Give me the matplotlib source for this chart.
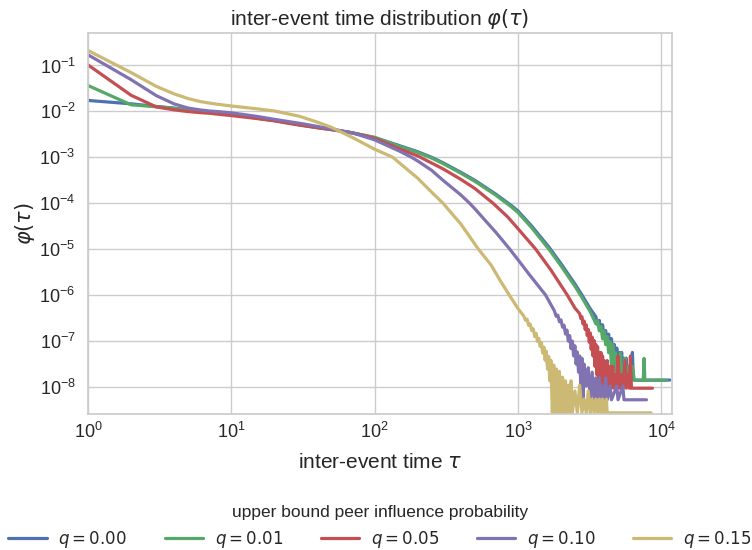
import numpy as np
import matplotlib
matplotlib.use("Agg")
import matplotlib.pyplot as plt
import seaborn as sns

# smooth part of each distribution (tau, phi)
tau_head = [1, 2, 3, 4, 5, 6, 7, 8, 10, 15, 20, 30, 40, 50, 70, 100]

phi_head_000 = [0.0173, 0.0146, 0.0128, 0.0118, 0.0108, 0.0102, 0.0098, 0.0094, 0.0088, 0.0073, 0.0064,
                0.0052, 0.0045, 0.0041, 0.0034, 0.0027]
phi_head_001 = [0.0366, 0.0139, 0.0126, 0.0116, 0.0106, 0.0100, 0.0096, 0.0092, 0.0086, 0.0071, 0.0063,
                0.0051, 0.0044, 0.0040, 0.0034, 0.0027]
phi_head_005 = [0.103, 0.0224, 0.0125, 0.0108, 0.0099, 0.0094, 0.0091, 0.0087, 0.0081, 0.0070, 0.0062,
                0.0050, 0.0044, 0.0040, 0.0034, 0.0026]
phi_head_010 = [0.171, 0.049, 0.022, 0.0145, 0.0118, 0.0108, 0.0102, 0.0099, 0.0093, 0.0078, 0.0067,
                0.0055, 0.0047, 0.0041, 0.0034, 0.0024]
phi_head_015 = [0.212, 0.070, 0.035, 0.024, 0.0190, 0.0165, 0.0152, 0.0143, 0.0131, 0.0114, 0.0102,
                0.0078, 0.0058, 0.0045, 0.0027, 0.0015]

tau_mid_000 = [150, 200, 250, 300, 400, 500, 700, 900, 1000, 1250, 1660, 2000, 2500, 2800, 3200]
phi_mid_000 = [1.78e-3, 1.32e-3, 1.0e-3, 7.6e-4, 4.7e-4, 3.16e-4, 1.58e-4, 8.9e-5, 6.8e-5, 3.16e-5,
               1.07e-5, 4.8e-6, 1.74e-6, 1.0e-6, 5.0e-7]
tau_mid_001 = [150, 200, 250, 300, 400, 500, 700, 900, 1000, 1250, 1660, 2000, 2500, 2800, 3200]
phi_mid_001 = [1.72e-3, 1.27e-3, 9.6e-4, 7.3e-4, 4.5e-4, 3.0e-4, 1.5e-4, 8.3e-5, 6.3e-5, 2.9e-5,
               9.6e-6, 4.3e-6, 1.55e-6, 8.8e-7, 4.3e-7]
tau_mid_005 = [150, 200, 300, 400, 500, 670, 850, 1000, 1330, 1700, 2210, 2500]
phi_mid_005 = [1.51e-3, 1.07e-3, 5.6e-4, 3.3e-4, 2.1e-4, 1.0e-4, 5.0e-5, 2.8e-5, 1.0e-5, 3.5e-6, 1.0e-6, 5.2e-7]
tau_mid_010 = [150, 181, 200, 250, 300, 400, 460, 500, 600, 700, 877, 1000, 1200, 1560]
phi_mid_010 = [1.35e-3, 1.0e-3, 8.3e-4, 5.2e-4, 3.16e-4, 1.51e-4, 1.0e-4, 7.6e-5, 4.0e-5, 2.34e-5,
               1.0e-5, 5.9e-6, 2.8e-6, 1.0e-6]
tau_mid_015 = [134, 150, 200, 250, 300, 400, 530, 650, 750, 870, 1000]
phi_mid_015 = [1.0e-3, 7.4e-4, 3.5e-4, 1.74e-4, 1.0e-4, 3.5e-5, 1.0e-5, 4.5e-6, 2.1e-6, 1.0e-6, 5.1e-7]

# noisy tails: event counts per bin, one count = count_unit
count_unit = [1.4e-8, 1.38e-8, 9.3e-9, 5.2e-9, 2.7e-9]

tau_tail_000 = [3500, 3600, 3700, 3800, 3900, 4000, 4100, 4200, 4300, 4400, 4500, 4600, 4700, 4800, 4900,
                5000, 5100, 5200, 5300, 5400, 5500, 5600, 5700, 5800, 5900, 6000, 6200, 6300, 6400, 11500]
cnt_tail_000 = [24, 16, 20, 12, 16, 9, 12, 6, 10, 4, 8, 3, 6, 2, 5,
                1, 4, 2, 4, 1, 3, 1, 3, 1, 2, 1, 2, 4, 1, 1]

tau_tail_001 = [3400, 3500, 3600, 3700, 3800, 3900, 4000, 4100, 4200, 4300, 4400, 4500, 4600, 4700, 4800,
                4900, 5000, 5100, 5200, 5300, 5400, 5500, 5600, 5700, 5900, 6000, 6300, 6500, 7500, 7600,
                7700, 10900]
cnt_tail_001 = [21, 17, 20, 12, 15, 8, 12, 6, 9, 4, 7, 2, 6, 2, 4,
                1, 3, 1, 4, 1, 2, 1, 3, 1, 2, 1, 2, 1, 1, 3,
                1, 1]

tau_tail_005 = [2700, 2750, 2800, 2850, 2900, 2950, 3000, 3050, 3100, 3150, 3200, 3250, 3300, 3350, 3400,
                3450, 3500, 3550, 3600, 3650, 3700, 3750, 3800, 3850, 3900, 3950, 4000, 4100, 4200, 4300,
                4400, 4500, 4600, 4700, 4800, 4900, 5000, 5100, 5300, 5400, 5600, 5700, 5900, 6000, 6100,
                6200, 8700]
cnt_tail_005 = [42, 33, 36, 25, 29, 19, 24, 14, 19, 10, 16, 7, 13, 5, 11,
                3, 9, 2, 8, 1, 6, 2, 6, 1, 5, 1, 4, 1, 4, 1,
                3, 1, 3, 1, 2, 1, 5, 1, 2, 1, 4, 1, 2, 1, 5,
                1, 1]

tau_tail_010 = [1800, 1850, 1900, 1950, 2000, 2050, 2100, 2150, 2200, 2250, 2300, 2350, 2400, 2450, 2500,
                2550, 2600, 2650, 2700, 2750, 2800, 2850, 2900, 3000, 3100, 3200, 3300, 3400, 3500, 3600,
                3700, 3800, 3900, 4000, 4100, 4200, 4400, 4500, 4900, 5000, 5400, 5500, 7900]
cnt_tail_010 = [86, 66, 70, 50, 55, 38, 42, 27, 33, 19, 25, 13, 19, 9, 15,
                6, 11, 4, 9, 2, 8, 1, 6, 2, 5, 1, 4, 1, 3, 1,
                3, 1, 2, 1, 3, 1, 2, 1, 2, 1, 2, 1, 1]

tau_tail_015 = [1100, 1130, 1160, 1190, 1220, 1250, 1280, 1310, 1340, 1370, 1400, 1430, 1460, 1490, 1520,
                1550, 1580, 1610, 1640, 1670, 1700, 1740, 1780, 1820, 1860, 1900, 1950, 2000, 2050, 2100,
                2150, 2200, 2250, 2300, 2350, 2400, 2500, 2600, 2700, 2800, 2900, 3000, 3100, 3200, 3300,
                3400, 3500, 3600, 3700, 3800, 3900, 4000, 4150, 4200, 8500]
cnt_tail_015 = [128, 104, 110, 80, 86, 62, 68, 46, 54, 36, 42, 28, 34, 20, 27,
                14, 22, 9, 17, 5, 14, 1, 11, 1, 9, 1, 8, 1, 6, 1,
                5, 1, 4, 1, 5, 1, 3, 1, 4, 1, 2, 1, 3, 1, 2,
                1, 2, 1, 2, 1, 2, 1, 2, 1, 1]

labels = ["$q = 0.00$", "$q = 0.01$", "$q = 0.05$", "$q = 0.10$", "$q = 0.15$"]
colors = ["#4C72B0", "#55A868", "#C44E52", "#8172B2", "#CCB974"]

heads = [phi_head_000, phi_head_001, phi_head_005, phi_head_010, phi_head_015]
mids = [(tau_mid_000, phi_mid_000), (tau_mid_001, phi_mid_001), (tau_mid_005, phi_mid_005),
        (tau_mid_010, phi_mid_010), (tau_mid_015, phi_mid_015)]
tails = [(tau_tail_000, cnt_tail_000), (tau_tail_001, cnt_tail_001), (tau_tail_005, cnt_tail_005),
         (tau_tail_010, cnt_tail_010), (tau_tail_015, cnt_tail_015)]

xtick_values = [1e0, 1e1, 1e2, 1e3, 1e4]
ytick_values = [1e-8, 1e-7, 1e-6, 1e-5, 1e-4, 1e-3, 1e-2, 1e-1]

sns.set_style("whitegrid")
plt.rcParams["font.family"] = ["Liberation Sans", "DejaVu Sans"]
plt.rcParams["mathtext.fontset"] = "dejavusans"
text_col = "#262626"

fig = plt.figure(figsize=(7.52, 5.5), dpi=100)
ax = fig.add_axes([0.117, 0.2473, 0.7766, 0.6927])

for i in range(5):
    t_mid, p_mid = mids[i]
    t_tail, c_tail = tails[i]
    tau = np.concatenate([tau_head, t_mid, t_tail])
    phi = np.concatenate([heads[i], p_mid, np.array(c_tail) * count_unit[i]])
    ax.plot(tau, phi, color=colors[i], lw=2.3, label=labels[i])

ax.set_xscale("log")
ax.set_yscale("log")
ax.set_xlim(1, 1.19e4)
ax.set_ylim(2.55e-9, 0.51)
ax.set_xticks(xtick_values)
ax.set_yticks(ytick_values)
ax.xaxis.set_minor_locator(matplotlib.ticker.NullLocator())
ax.yaxis.set_minor_locator(matplotlib.ticker.NullLocator())
ax.tick_params(axis="x", labelsize=13, colors=text_col, pad=6, length=0)
ax.tick_params(axis="y", labelsize=13, colors=text_col, pad=9, length=0)
for s in ax.spines.values():
    s.set_color("#cccccc")
    s.set_linewidth(1.25)
ax.grid(True, color="#cccccc", lw=1)

ax.set_title(r"inter-event time distribution $\varphi(\tau)$", fontsize=15, color=text_col)
ax.set_xlabel(r"inter-event time $\tau$", fontsize=15, color=text_col, labelpad=7.5)
ax.set_ylabel(r"$\varphi(\tau)$", fontsize=15, color=text_col, labelpad=2)

leg = ax.legend(loc="upper center", bbox_to_anchor=(0.5, -0.199), ncol=5, frameon=False,
                title="upper bound peer influence probability", fontsize=12,
                handlelength=2.3, handletextpad=0.7, columnspacing=2.25, labelspacing=0.55)
leg.get_title().set_fontsize(12.5)
leg.get_title().set_color(text_col)
for t in leg.get_texts():
    t.set_color(text_col)

fig.savefig("out.png", dpi=100)
